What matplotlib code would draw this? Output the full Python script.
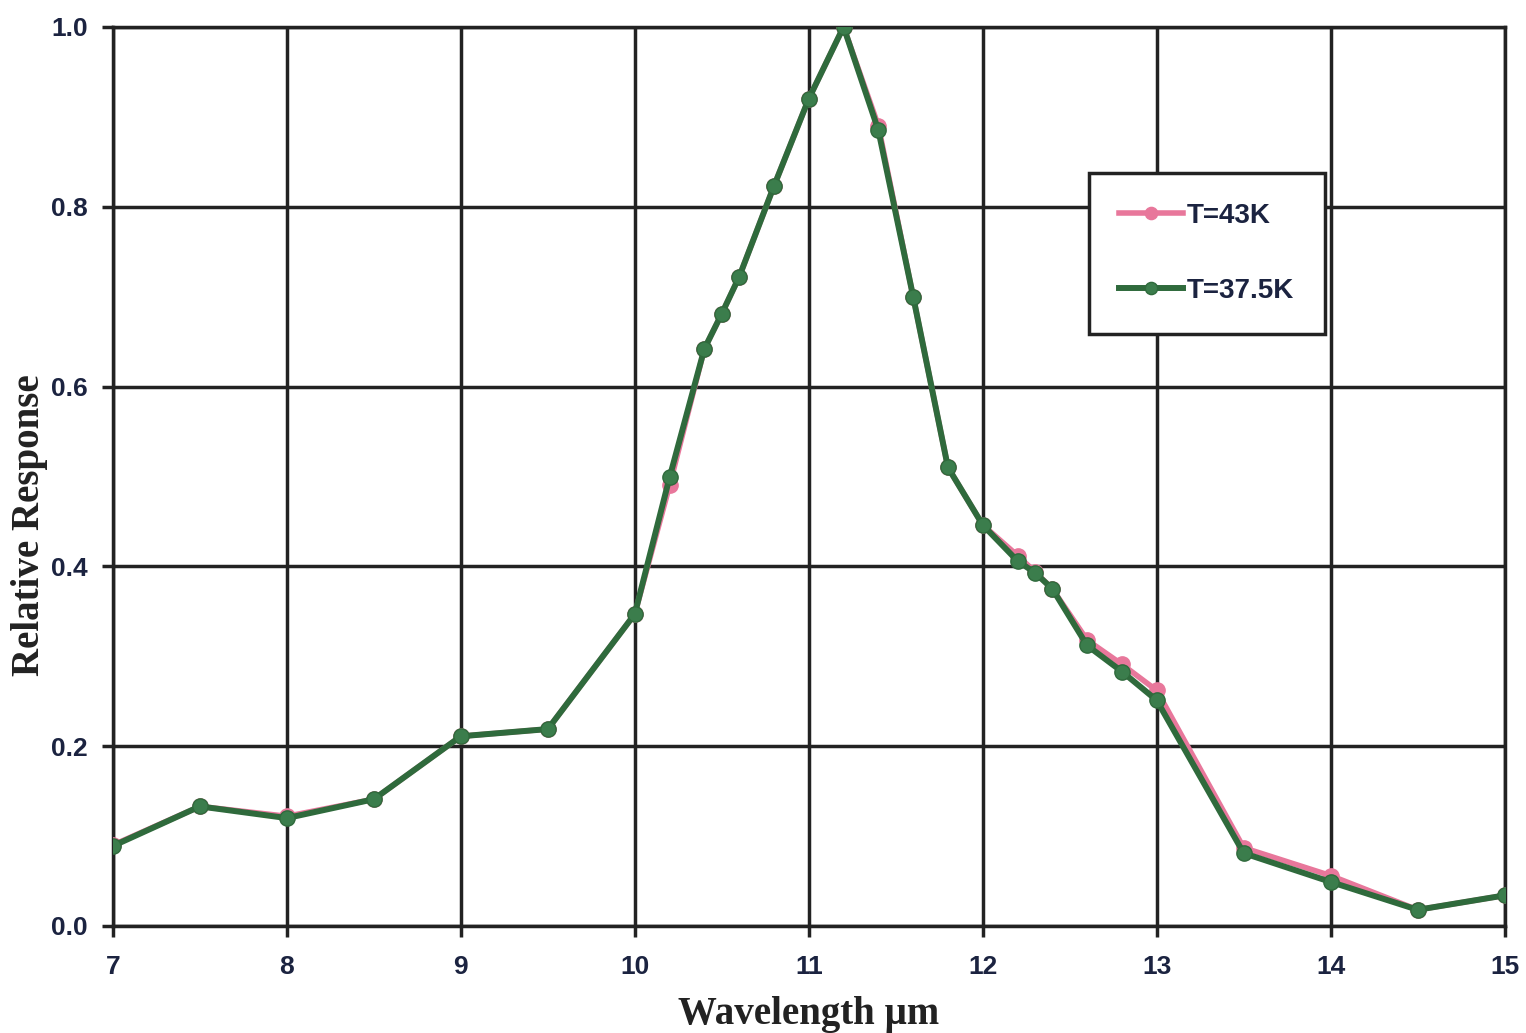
import matplotlib
matplotlib.use("Agg")
import matplotlib.pyplot as plt
import numpy as np

# wavelengths (um)
wavelength = [7.0, 7.5, 8.0, 8.5, 9.0, 9.5, 10.0, 10.2, 10.4, 10.5, 10.6, 10.8,
              11.0, 11.2, 11.4, 11.6, 11.8, 12.0, 12.2, 12.3, 12.4, 12.6, 12.8,
              13.0, 13.5, 14.0, 14.5, 15.0]
# relative response at T=43K
resp_43k = [0.090, 0.133, 0.122, 0.141, 0.211, 0.219, 0.347, 0.490, 0.642, 0.681,
            0.722, 0.823, 0.920, 1.000, 0.890, 0.700, 0.510, 0.446, 0.412, 0.394,
            0.375, 0.318, 0.291, 0.262, 0.087, 0.056, 0.018, 0.034]
# relative response at T=37.5K
resp_375k = [0.089, 0.133, 0.120, 0.141, 0.211, 0.219, 0.347, 0.499, 0.642, 0.681,
             0.722, 0.823, 0.920, 1.000, 0.885, 0.700, 0.510, 0.446, 0.406, 0.393,
             0.375, 0.312, 0.283, 0.251, 0.081, 0.049, 0.018, 0.034]

x_ticks = [7, 8, 9, 10, 11, 12, 13, 14, 15]
y_ticks = [0.0, 0.2, 0.4, 0.6, 0.8, 1.0]

fig = plt.figure(figsize=(15.26, 10.33), dpi=100)
ax = fig.add_axes([0.074, 0.1036, 0.912, 0.8704])

ax.plot(wavelength, resp_43k, color="#e8779b", lw=4, marker="o", ms=11,
        label="T=43K", zorder=3)
ax.plot(wavelength, resp_375k, color="#2f6a3c", lw=4.3, marker="o", ms=11,
        mfc="#3b7d4c", label="T=37.5K", zorder=4)

ax.set_xlim(7, 15)
ax.set_ylim(0, 1.0)
ax.set_xticks(x_ticks)
ax.set_yticks(y_ticks)
ax.set_xticklabels([str(t) for t in x_ticks])
ax.set_yticklabels([f"{t:.1f}" for t in y_ticks])
ax.tick_params(axis="both", length=8, width=2.5, color="#222222",
               labelsize=19, labelcolor="#1b2340")
ax.tick_params(axis="x", pad=13)
ax.tick_params(axis="y", pad=10)
for lbl in ax.get_xticklabels() + ax.get_yticklabels():
    lbl.set_fontweight("bold")
    lbl.set_family("Liberation Sans")

ax.grid(True, color="#222222", lw=2.5)
ax.set_axisbelow(True)
for s in ax.spines.values():
    s.set_color("#222222")
    s.set_linewidth(2.5)

ax.set_xlabel("Wavelength µm", family="Liberation Serif", fontweight="bold",
              fontsize=28, color="#222222", labelpad=12)
ax.set_ylabel("Relative Response", family="Liberation Serif", fontweight="bold",
              fontsize=28, color="#222222", va="center")
ax.yaxis.set_label_coords(-0.0596, 0.446)

leg = ax.legend(loc="upper left", bbox_to_anchor=(0.701, 0.838), frameon=True,
                fancybox=False, edgecolor="#222222", framealpha=1,
                prop={"family": "Liberation Sans", "size": 20, "weight": "bold"},
                borderaxespad=0, borderpad=1.1, labelspacing=1.75,
                handlelength=2.3, handletextpad=0.15, markerscale=0.8)
leg.get_frame().set_linewidth(2.5)
for t in leg.get_texts():
    t.set_color("#1b2340")

fig.savefig("out.png", dpi=100, facecolor="white")
